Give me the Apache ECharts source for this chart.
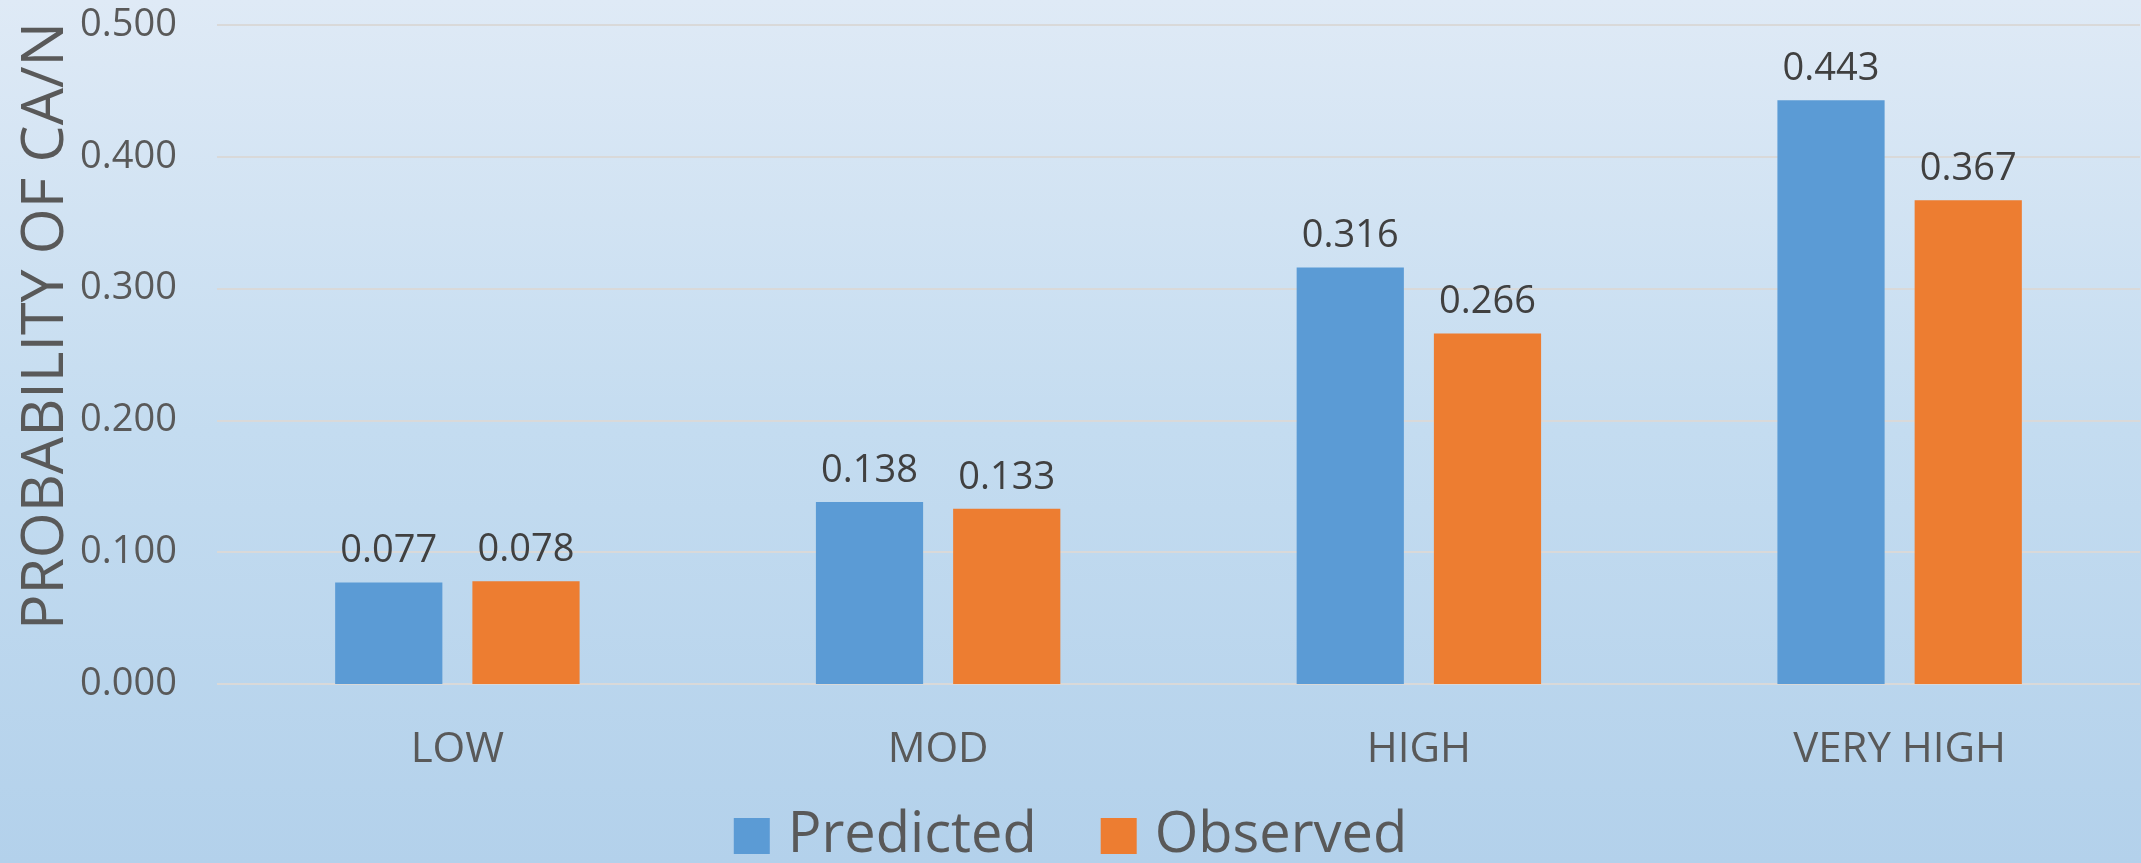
<!DOCTYPE html>
<html>
<head>
<meta charset="utf-8">
<script src="https://cdn.jsdelivr.net/npm/echarts@6/dist/echarts.min.js"></script>
<style>
  html, body { margin: 0; padding: 0; }
  #chart { width: 2141px; height: 863px; }
</style>
</head>
<body>
<div id="chart"></div>
<script>
// Risk groups and probability of cardiac arrest / death
const categories = ['LOW', 'MOD', 'HIGH', 'VERY HIGH'];
const predicted = [0.077, 0.138, 0.316, 0.443];
const observed = [0.078, 0.133, 0.266, 0.367];
const seriesNames = ['Predicted', 'Observed'];
const axisTitle = 'PROBABILITY OF CA/N';

const FONT = '"Open Sans", "Noto Sans", sans-serif';

const chart = echarts.init(document.getElementById('chart'), null, { renderer: 'canvas' });

const labelStyle = {
  show: true,
  position: 'top',
  distance: 12,
  color: '#404040',
  fontFamily: FONT,
  fontSize: 38,
  formatter: p => p.value.toFixed(3)
};

chart.setOption({
  backgroundColor: {
    type: 'linear', x: 0, y: 0, x2: 0, y2: 1,
    colorStops: [
      { offset: 0, color: '#dfeaf6' },
      { offset: 0.5, color: '#c4dcf0' },
      { offset: 1, color: '#b3d1eb' }
    ]
  },
  textStyle: { fontFamily: FONT },
  grid: { left: 217, right: 1, top: 25, bottom: 179, containLabel: false },
  legend: {
    data: seriesNames,
    left: 'center',
    bottom: -6,
    itemWidth: 36,
    itemHeight: 36,
    itemGap: 64,
    icon: 'rect',
    textStyle: {
      color: '#595959',
      fontFamily: FONT,
      fontSize: 56,
      padding: [0, 0, 0, 13]
    }
  },
  xAxis: {
    type: 'category',
    data: categories,
    axisLine: { show: false },
    axisTick: { show: false },
    axisLabel: {
      color: '#595959',
      fontFamily: FONT,
      fontSize: 42,
      margin: 45
    }
  },
  yAxis: {
    type: 'value',
    min: 0,
    max: 0.5,
    interval: 0.1,
    axisLine: { show: false },
    axisTick: { show: false },
    splitLine: { lineStyle: { color: '#d9d9d9', width: 2 } },
    axisLabel: {
      color: '#595959',
      fontFamily: FONT,
      fontSize: 38,
      margin: 40,
      formatter: v => v.toFixed(3)
    }
  },
  graphic: [{
    type: 'text',
    x: 46,
    y: 326,
    rotation: Math.PI / 2,
    style: {
      text: axisTitle,
      fill: '#595959',
      font: '59px ' + FONT,
      textAlign: 'center',
      textVerticalAlign: 'middle'
    }
  }],
  series: [
    {
      name: seriesNames[0],
      type: 'bar',
      data: predicted,
      barWidth: '22.3%',
      barGap: '28%',
      itemStyle: { color: '#5b9bd5' },
      label: labelStyle
    },
    {
      name: seriesNames[1],
      type: 'bar',
      data: observed,
      barWidth: '22.3%',
      barGap: '28%',
      itemStyle: { color: '#ed7d31' },
      label: labelStyle
    }
  ]
});
</script>
</body>
</html>
